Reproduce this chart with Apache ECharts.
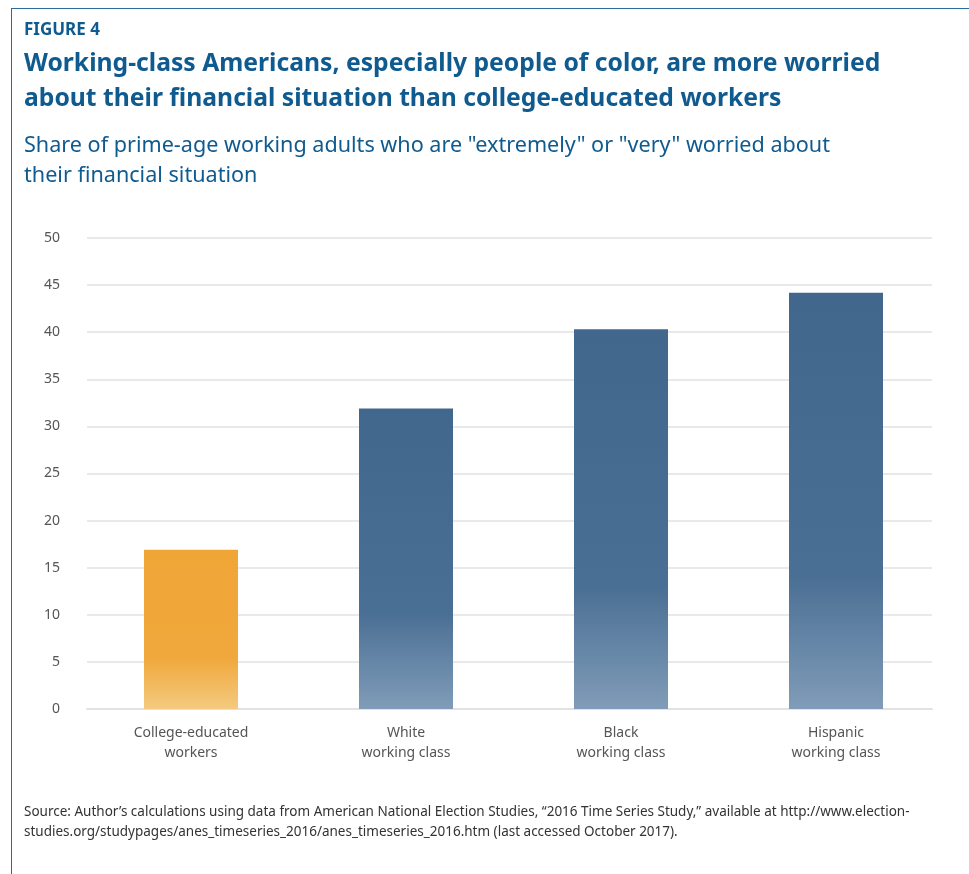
<!DOCTYPE html>
<html>
<head>
<meta charset="utf-8">
<script src="https://cdn.jsdelivr.net/npm/echarts@6/dist/echarts.min.js"></script>
<style>
  html, body { margin: 0; padding: 0; background: #fff; }
  #chart { width: 969px; height: 874px; }
</style>
</head>
<body>
<div id="chart"></div>
<script>
// data
const categories = ['College-educated\nworkers', 'White\nworking class', 'Black\nworking class', 'Hispanic\nworking class']
const worriedShare = [16.9, 31.9, 40.3, 44.2]
const yTicks = { min: 0, max: 50, interval: 5 }

const orange = new echarts.graphic.LinearGradient(0, 0, 0, 1, [
  { offset: 0, color: '#F0A537' },
  { offset: 0.68, color: '#F0A83C' },
  { offset: 1, color: '#F4CA80' }
])
const blue = new echarts.graphic.LinearGradient(0, 0, 0, 1, [
  { offset: 0, color: '#41678C' },
  { offset: 0.68, color: '#4A6F94' },
  { offset: 1, color: '#809CB8' }
])

const titleColor = '#0F5A8F'
const font = '"Noto Sans", "Open Sans", sans-serif'

let chart = echarts.init(document.getElementById('chart'))
chart.setOption({
  animation: false,
  textStyle: { fontFamily: font },
  title: [
    {
      text: 'FIGURE 4',
      left: 24, top: 22, padding: 0,
      textStyle: { color: titleColor, fontSize: 17, fontWeight: 'bold', fontFamily: font }
    },
    {
      text: 'Working-class Americans, especially people of color, are more worried\nabout their financial situation than college-educated workers',
      left: 24, top: 46, padding: 0,
      textStyle: { color: titleColor, fontSize: 24.7, fontWeight: 'bold', lineHeight: 35, fontFamily: font }
    },
    {
      text: 'Share of prime-age working adults who are "extremely" or "very" worried about\ntheir financial situation',
      left: 24, top: 131, padding: 0,
      textStyle: { color: titleColor, fontSize: 21.6, fontWeight: 'normal', lineHeight: 30, fontFamily: font }
    },
    {
      text: 'Source: Author\u2019s calculations using data from American National Election Studies, \u201c2016 Time Series Study,\u201d available at http://www.election-\nstudies.org/studypages/anes_timeseries_2016/anes_timeseries_2016.htm (last accessed October 2017).',
      left: 24, top: 802, padding: 0,
      textStyle: { color: '#333', fontSize: 13.5, fontWeight: 'normal', lineHeight: 20, fontFamily: font }
    }
  ],
  graphic: [
    { type: 'line', shape: { x1: 11, y1: 8.5, x2: 969, y2: 8.5 }, style: { stroke: '#2D6A9C', lineWidth: 1 } },
    { type: 'line', shape: { x1: 11.5, y1: 8, x2: 11.5, y2: 874 }, style: { stroke: '#2D6A9C', lineWidth: 1 } }
  ],
  grid: [
    // bars
    { left: 83.5, right: 25.5, top: 238, bottom: 165 },
    // gridlines only, a little narrower than the bar band
    { left: 87, right: 37, top: 238, bottom: 165 }
  ],
  xAxis: [
    {
      type: 'category',
      gridIndex: 0,
      data: categories,
      axisLine: { show: false },
      axisTick: { show: false },
      axisLabel: { color: '#555', fontSize: 14, lineHeight: 20, margin: 14 }
    },
    {
      type: 'category',
      gridIndex: 1,
      data: categories,
      show: true,
      axisLine: { show: true, lineStyle: { color: '#E2E2E2', width: 2 } },
      axisTick: { show: false },
      axisLabel: { show: false }
    }
  ],
  yAxis: [
    {
      type: 'value',
      gridIndex: 0,
      min: yTicks.min, max: yTicks.max, interval: yTicks.interval,
      axisLine: { show: false },
      axisTick: { show: false },
      axisLabel: { show: false },
      splitLine: { show: false }
    },
    {
      type: 'value',
      gridIndex: 1,
      min: yTicks.min, max: yTicks.max, interval: yTicks.interval,
      axisLine: { show: false },
      axisTick: { show: false },
      axisLabel: { color: '#555', fontSize: 14, margin: 27 },
      splitLine: { lineStyle: { color: '#E2E2E2', width: 1.5 } }
    }
  ],
  series: [{
    type: 'bar',
    xAxisIndex: 0,
    yAxisIndex: 0,
    barWidth: 94,
    z: 3,
    data: worriedShare.map((v, i) => ({
      value: v,
      itemStyle: { color: i === 0 ? orange : blue }
    }))
  }]
})
</script>
</body>
</html>
